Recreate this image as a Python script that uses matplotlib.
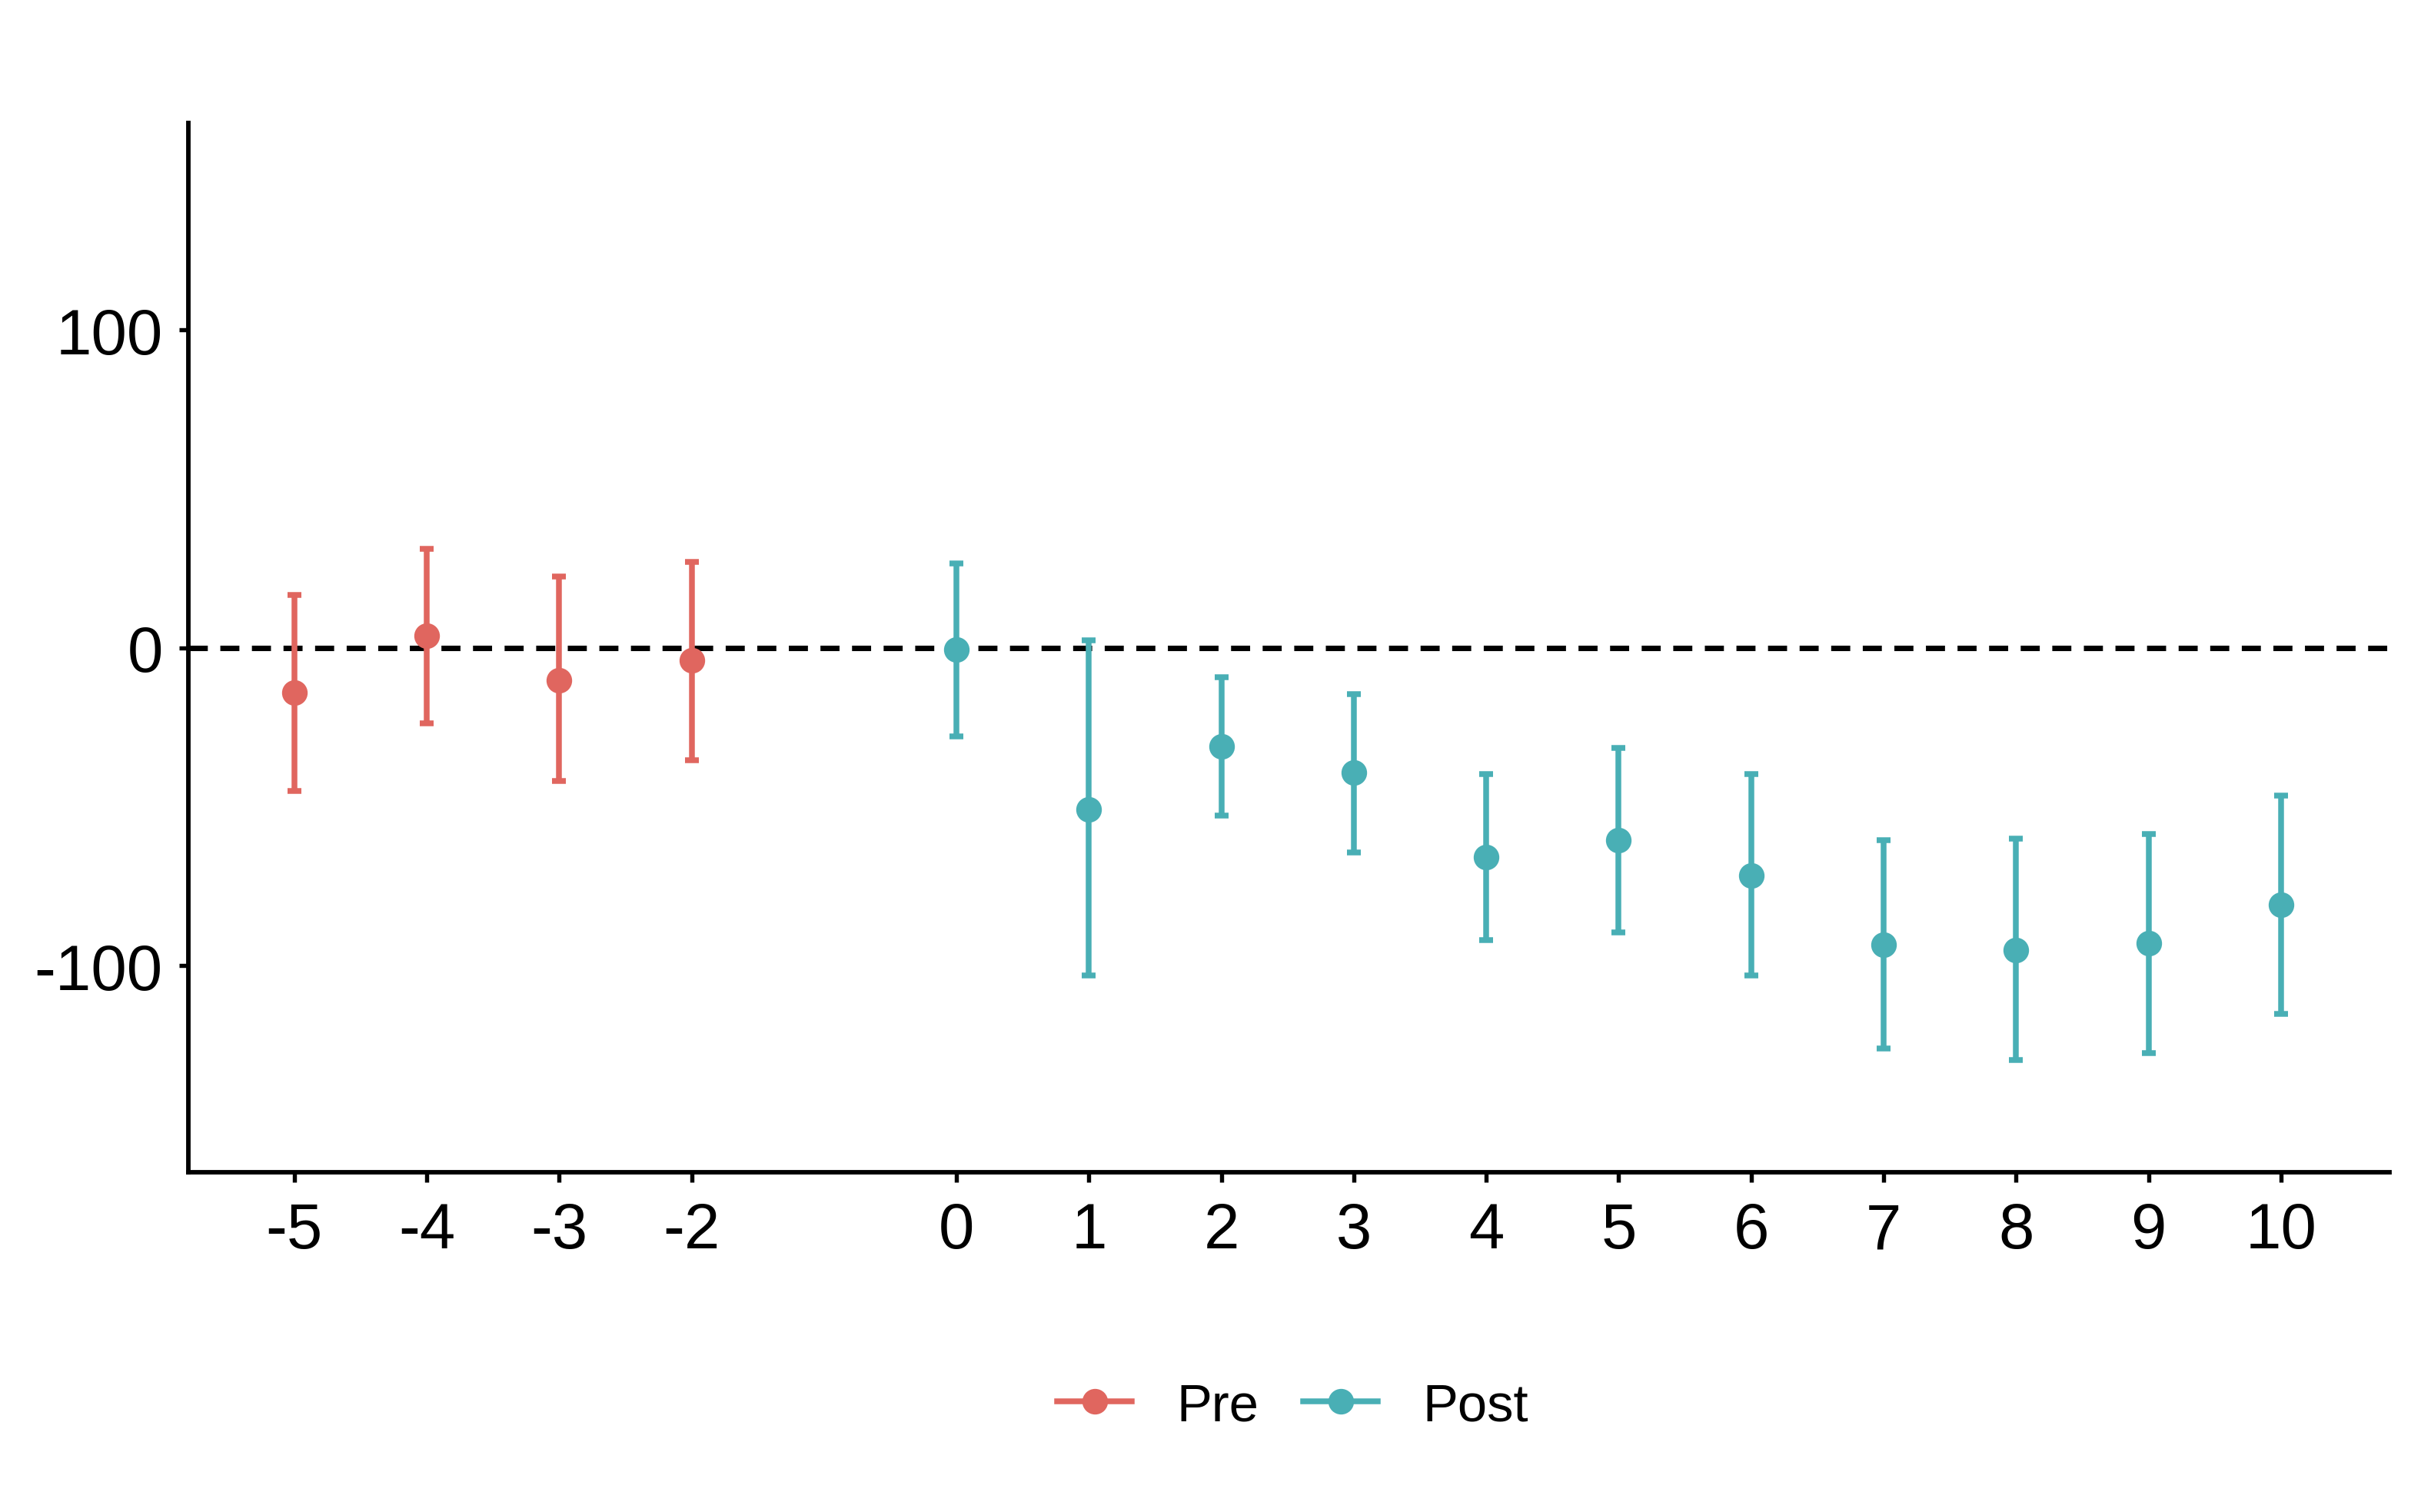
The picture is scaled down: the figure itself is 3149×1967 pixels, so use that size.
import matplotlib
matplotlib.use("Agg")
import matplotlib.pyplot as plt
from matplotlib.lines import Line2D

plt.rcParams['font.family'] = ['Liberation Sans', 'DejaVu Sans']

# event-study estimates
pre_t = [-5, -4, -3, -2]
pre_est = [-14.0, 3.9, -10.2, -3.9]
pre_lo = [-45.0, -23.7, -42.0, -35.4]
pre_hi = [16.5, 31.0, 22.3, 27.0]

post_t = [0, 1, 2, 3, 4, 5, 6, 7, 8, 9, 10]
post_est = [-0.5, -50.8, -31.0, -39.2, -65.9, -60.5, -71.7, -93.5, -95.0, -93.0, -80.9]
post_lo = [-28.0, -103.0, -52.8, -64.4, -92.0, -89.6, -103.0, -126.0, -129.8, -127.4, -115.3]
post_hi = [26.6, 2.4, -9.2, -14.5, -39.7, -31.5, -39.7, -60.5, -60.0, -58.6, -46.5]

xticks = [-5, -4, -3, -2, 0, 1, 2, 3, 4, 5, 6, 7, 8, 9, 10]
yticks = [-100, 0, 100]

col_pre = '#E0665F'
col_post = '#49AFB5'

fig = plt.figure(figsize=(3149/300, 1968/300), dpi=300)
ax = fig.add_axes([0.0778, 0.2246, 0.9092, 0.6934])

ax.axhline(0, color='black', lw=1.7, linestyle=(0, (3.5, 2.3)), zorder=1)

for t, est, lo, hi, c in [(pre_t, pre_est, pre_lo, pre_hi, col_pre),
                          (post_t, post_est, post_lo, post_hi, col_post)]:
    err = [[e - l for e, l in zip(est, lo)], [h - e for e, h in zip(est, hi)]]
    ax.errorbar(t, est, yerr=err, fmt='o', color=c, ms=7, elinewidth=1.8,
                capsize=2.2, capthick=1.8, zorder=3)

ax.set_xlim(-5.8, 10.82)
ax.set_ylim(-165, 165)
ax.set_xticks(xticks)
ax.set_xticklabels([str(v) for v in xticks])
ax.set_yticks(yticks)
ax.set_yticklabels([str(v) for v in yticks])
ax.tick_params(labelsize=20, length=3, width=1.3, color='black', pad=5)
ax.tick_params(axis='x', pad=6)
for s in ['top', 'right']:
    ax.spines[s].set_visible(False)
for s in ['left', 'bottom']:
    ax.spines[s].set_linewidth(1.4)

handles = [Line2D([], [], color=col_pre, marker='o', ms=7, lw=1.8),
           Line2D([], [], color=col_post, marker='o', ms=7, lw=1.8)]
fig.legend(handles, ['Pre', 'Post'], loc='center', bbox_to_anchor=(0.534, 0.070),
           ncol=2, frameon=False, fontsize=16.5, handlelength=1.4, columnspacing=0.85,
           handletextpad=0.85)

fig.savefig('out.png', dpi=300)
